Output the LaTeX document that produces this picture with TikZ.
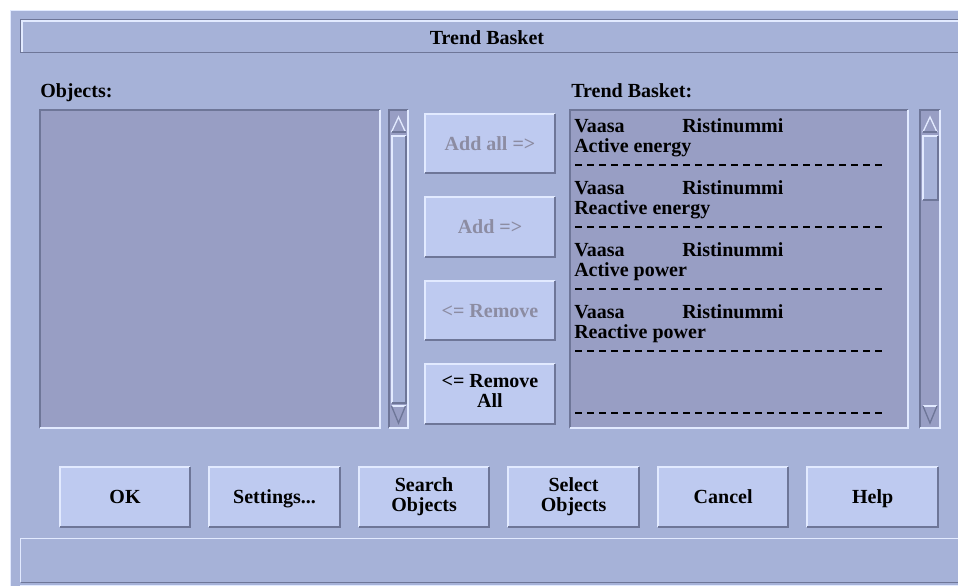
\documentclass[tikz,border=0pt]{standalone}
\usepackage{fontspec}
\setmainfont{Liberation Serif}
\usetikzlibrary{positioning}

\definecolor{winbg}{RGB}{166,178,216}
\definecolor{listbg}{RGB}{152,158,196}
\definecolor{btnbg}{RGB}{190,202,240}
\definecolor{edgelight}{RGB}{226,234,255}
\definecolor{edgedark}{RGB}{110,118,152}
\definecolor{greyed}{RGB}{140,140,162}

\newcommand{\guifont}{\bfseries\fontsize{15}{15}\selectfont}
\newcommand{\btnstrut}{\rule[-4pt]{0pt}{18pt}}

\tikzset{
  btn/.style={fill=btnbg, minimum width=97.5pt, minimum height=44.25pt,
    inner sep=0pt, align=center, font=\guifont,
    execute at begin node=\btnstrut, execute at end node=\btnstrut},
  bigbtn/.style={btn, minimum height=45pt},
  off/.style={text=greyed},
  lbl/.style={anchor=base west, inner sep=0pt, font=\guifont},
  entry/.style={anchor=base west, inner sep=0pt, font=\guifont},
  listbox/.style={fill=listbg, minimum height=238.5pt, inner sep=0pt},
  trough/.style={fill=listbg, minimum height=238.5pt, inner sep=0pt},
  hi/.style={edgelight, line width=1.5pt},
  lo/.style={edgedark, line width=1.5pt},
  sep/.style={line width=1.3pt, dash pattern=on 5.25pt off 3.75pt},
}

\begin{document}
\begin{tikzpicture}[x=0.75pt, y=-0.75pt]
    \useasboundingbox[fill=white] (0,0) rectangle (958,586);

    % window frame
    \fill[winbg] (10,10) rectangle (958,586);
    \draw[edgelight, line width=1pt] (10.5,586) -- (10.5,10.5) -- (958,10.5);

    % title bar
    \draw[edgedark, line width=1pt] (962,19.5) -| (20.5,52.5) -- (962,52.5);
    \draw[edgelight, line width=1pt] (962,21) -| (22,51.5);
    \node[lbl, anchor=base] (title) at (487,44) {Trend Basket};

    % captions
    \node[lbl] (objcap) at (40,97) {Objects:};
    \node[lbl] (bskcap) at (571,97) {Trend Basket:};

    % lists and scroll bars
    \node[listbox, minimum width=255pt] (objlist) at (210,269) {};
    \node[trough, minimum width=14.25pt] (lscroll) at (398.5,269) {};
    \node[listbox, minimum width=253.5pt] (bsklist) at (739,269) {};
    \node[trough, minimum width=15pt] (rscroll) at (930,269) {};
    \foreach \n in {objlist,lscroll,bsklist,rscroll} {
        \draw[lo] (\n.south west) |- (\n.north east);
        \draw[hi] (\n.south west) -| (\n.north east);
    }

    % scroll thumbs
    \fill[winbg] (391,135) rectangle (406,403);
    \draw[hi] (391.5,403) |- (406,135.5);
    \draw[lo] (391.5,402.5) -| (405.5,135.5);
    \fill[winbg] (922,135) rectangle (938,200);
    \draw[hi] (922.5,200) |- (938,135.5);
    \draw[lo] (922.5,199.5) -| (937.5,135.5);

    % scroll arrows
    \foreach \cx in {398.5,930} {
        \draw[edgelight, line width=1pt] (\cx-7,132) -- (\cx,117) -- (\cx+7,132);
        \draw[edgedark, line width=1pt] (\cx-7,132) -- (\cx+7,132);
        \draw[edgelight, line width=1pt] (\cx-7,406) -- (\cx+7,406);
        \draw[edgedark, line width=1pt] (\cx-7,406) -- (\cx,423) -- (\cx+7,406);
    }

    % basket entries
    \foreach \kind [count=\i from 0] in {Active energy, Reactive energy, Active power, Reactive power} {
        \node[entry] (place\i) at (574,132+62*\i) {Vaasa};
        \node[entry] (site\i) at (682,132+62*\i) {Ristinummi};
        \node[entry] (kind\i) at (574,152+62*\i) {\kind};
        \draw[sep] (575,165+62*\i) -- (882,165+62*\i);
    }
    \draw[sep] (575,413) -- (882,413);

    % transfer buttons
    \node[btn, off] (addall) at (490,143.5) {Add all =>};
    \node[btn, off, below=18pt of addall] (add) {Add =>};
    \node[btn, off, below=18pt of add] (remove) {<= Remove};
    \node[btn, below=18pt of remove] (removeall) {<= Remove\\All};

    % dialog buttons
    \node[bigbtn] (ok) at (125,497) {OK};
    \node[bigbtn, right=14.25pt of ok] (settings) {Settings...};
    \node[bigbtn, right=14.25pt of settings] (search) {Search\\Objects};
    \node[bigbtn, right=14.25pt of search] (select) {Select\\Objects};
    \node[bigbtn, right=14.25pt of select] (cancel) {Cancel};
    \node[bigbtn, right=14.25pt of cancel] (help) {Help};

    \foreach \n in {addall,add,remove,removeall,ok,settings,search,select,cancel,help} {
        \draw[hi] (\n.south west) |- (\n.north east);
        \draw[lo] (\n.south west) -| (\n.north east);
    }

    % status bar
    \draw[edgelight, line width=1pt] (20.5,582) |- (962,538.5);
    \draw[edgedark, line width=1pt] (20.5,582.5) -- (962,582.5);
    \draw[edgelight, line width=1pt] (20,585.5) -- (962,585.5);

\end{tikzpicture}
\end{document}
